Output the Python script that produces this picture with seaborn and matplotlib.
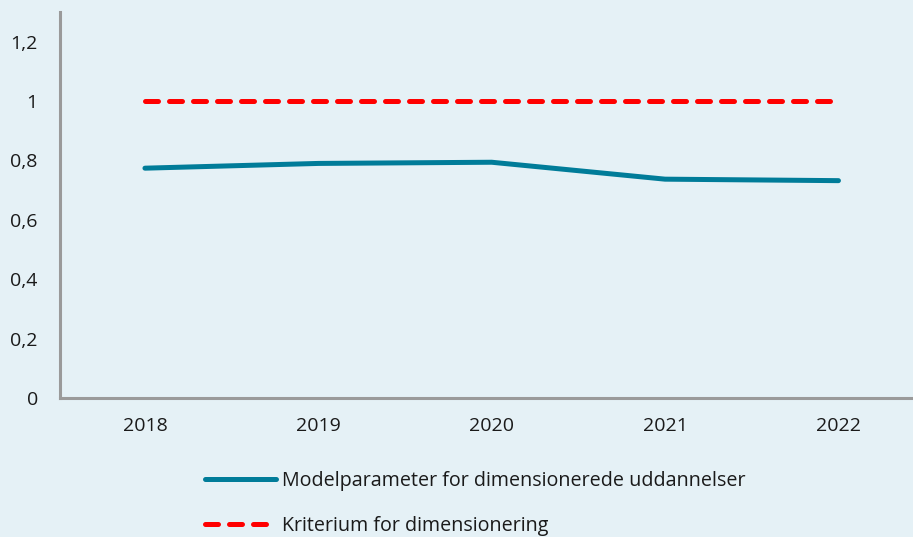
import pandas as pd
import matplotlib.pyplot as plt
import seaborn as sns

years = [2018, 2019, 2020, 2021, 2022]
model_param = [0.774, 0.790, 0.794, 0.737, 0.732]
criterion = [1, 1, 1, 1, 1]
series_names = ["Modelparameter for dimensionerede uddannelser", "Kriterium for dimensionering"]
y_ticks = [0, 0.2, 0.4, 0.6, 0.8, 1.0, 1.2]
y_labels = ["0", "0,2", "0,4", "0,6", "0,8", "1", "1,2"]

bg = "#E5F1F6"
teal = "#007C99"
red = "#FF0000"

sns.set_style("white")
plt.rcParams['font.family'] = ['Open Sans', 'DejaVu Sans']

df = pd.DataFrame({"year": years, series_names[0]: model_param, series_names[1]: criterion})

fig = plt.figure(figsize=(9.13, 5.37), dpi=100, facecolor=bg)
ax = fig.add_axes([60 / 913, 139 / 537, 853 / 913, 386 / 537])
ax.set_facecolor(bg)

sns.lineplot(data=df, x="year", y=series_names[0], ax=ax, color=teal, linewidth=3.6,
             label=series_names[0])
sns.lineplot(data=df, x="year", y=series_names[1], ax=ax, color=red, linewidth=3.6,
             dashes=(2.6, 2.2), label=series_names[1])
for line in ax.lines:
    line.set_dash_capstyle("round")
    line.set_solid_capstyle("round")

ax.set_xlim(2017.51, 2022.43)
ax.set_ylim(0, 1.3)
ax.set_xticks(years)
ax.set_xticklabels([str(y) for y in years])
ax.set_yticks(y_ticks)
ax.set_yticklabels(y_labels)
ax.set_xlabel("")
ax.set_ylabel("")
ax.tick_params(axis="both", length=0, labelsize=14, colors="#1a1a1a")
ax.tick_params(axis="x", pad=14)
ax.tick_params(axis="y", pad=16)

for side in ["top", "right"]:
    ax.spines[side].set_visible(False)
for side in ["left", "bottom"]:
    ax.spines[side].set_color("#9A9A9A")
    ax.spines[side].set_linewidth(2.2)

leg = ax.legend(loc="upper left", bbox_to_anchor=(187 / 913, 1 - 453 / 537),
                bbox_transform=fig.transFigure, frameon=False, fontsize=14.2,
                handlelength=3.6, handletextpad=0.3, labelspacing=1.3)
for t in leg.get_texts():
    t.set_color("#1a1a1a")

fig.savefig("out.png", dpi=100, facecolor=bg)
